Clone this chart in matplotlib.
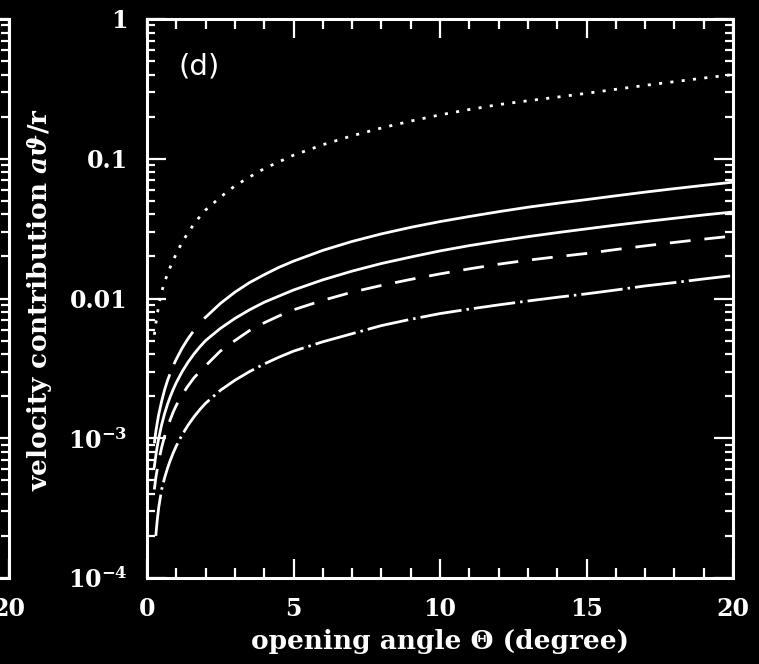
import numpy as np
import matplotlib
matplotlib.use("Agg")
import matplotlib.pyplot as plt
from matplotlib.font_manager import FontProperties
from matplotlib.ticker import (FixedLocator, FixedFormatter, MultipleLocator,
                               LogLocator, NullFormatter)

plt.rcParams['mathtext.fontset'] = 'custom'
plt.rcParams['mathtext.rm'] = 'DejaVu Serif:bold'
plt.rcParams['mathtext.bf'] = 'DejaVu Serif:bold'
plt.rcParams['mathtext.it'] = 'DejaVu Serif:italic:bold'
plt.rcParams['mathtext.default'] = 'rm'

# opening angle grid (degree)
theta = [0.25, 0.3, 0.35, 0.4, 0.5, 0.6, 0.7, 0.8, 0.9, 1.0, 1.2, 1.4, 1.6, 1.8,
         2.0, 2.5, 3, 3.5, 4, 4.5, 5, 6, 7, 8, 9, 10, 11, 12, 13, 14, 15, 16,
         17, 18, 19, 20]

# upper curve: own grid, with breaks of its long dashes at small angles
theta_a = [0.25, 0.3, 0.35, 0.4, 0.5, 0.6, 0.7, 0.78, 0.92, 1.0, 1.2, 1.4, 1.57,
           1.95, 2.5, 3, 3.5, 4, 4.5, 5, 6, 7, 8, 9, 10, 11, 12, 13, 14, 15, 16,
           17, 18, 19, 20]
vel_a = [0.00092, 0.00111, 0.00129, 0.00148, 0.00184, 0.00222, 0.00259, 0.00287,
         0.00339, 0.00368, 0.00442, 0.00516, 0.00578, 0.00718, 0.0092, 0.0111,
         0.0130, 0.0148, 0.0167, 0.0185, 0.0221, 0.0256, 0.0290, 0.0323, 0.0355,
         0.0386, 0.0418, 0.0450, 0.0480, 0.0510, 0.0543, 0.0577, 0.0611, 0.0645,
         0.0680]
a_pieces = [(0.25, 0.78), (0.92, 1.57), (1.95, 20)]

vel_b = [0.000625, 0.00075, 0.000875, 0.001, 0.00125, 0.0015, 0.00175, 0.002,
         0.00225, 0.0025, 0.003, 0.0035, 0.004, 0.0045, 0.005, 0.0061, 0.0072,
         0.0083, 0.0094, 0.0104, 0.0115, 0.0136, 0.0157, 0.0178, 0.0198, 0.0219,
         0.0239, 0.0258, 0.0277, 0.0296, 0.0315, 0.0335, 0.0355, 0.0375, 0.0396,
         0.0416]

vel_c = [0.00043, 0.00052, 0.0006, 0.00069, 0.00086, 0.00103, 0.0012, 0.00137,
         0.00155, 0.00172, 0.00205, 0.00237, 0.0027, 0.003, 0.0033, 0.0042,
         0.0050, 0.0059, 0.0067, 0.0075, 0.0083, 0.0097, 0.0111, 0.0124, 0.0137,
         0.0150, 0.0163, 0.0176, 0.0188, 0.0199, 0.0210, 0.0224, 0.0238, 0.0252,
         0.0266, 0.0280]

# dash-dot curve starts slightly later
theta_d = theta[1:]
vel_d = [0.0002, 0.00026, 0.00032, 0.00043, 0.00052, 0.00061, 0.0007, 0.00079,
         0.00088, 0.00106, 0.00124, 0.00142, 0.0016, 0.00178, 0.0022, 0.0026,
         0.0030, 0.0034, 0.0038, 0.0042, 0.0049, 0.0056, 0.0064, 0.0071, 0.0078,
         0.0084, 0.0090, 0.0096, 0.0102, 0.0108, 0.0115, 0.0123, 0.0130, 0.0138,
         0.0146]

vel_e = [0.0055, 0.0066, 0.0077, 0.0089, 0.0112, 0.0131, 0.0150, 0.0169, 0.0189,
         0.0209, 0.0253, 0.0296, 0.0340, 0.0385, 0.043, 0.053, 0.064, 0.074,
         0.085, 0.095, 0.106, 0.126, 0.146, 0.166, 0.186, 0.206, 0.225, 0.244,
         0.260, 0.276, 0.294, 0.314, 0.335, 0.356, 0.378, 0.400]

y_ticks = [1e-4, 1e-3, 0.01, 0.1, 1]
y_labels = ['$10^{-4}$', '$10^{-3}$', '0.01', '0.1', '1']
x_ticks = [0, 5, 10, 15, 20]
x_labels = ['0', '5', '10', '15', '20']

W, H = 759, 664
fig = plt.figure(figsize=(W / 100, H / 100), dpi=100, facecolor='black')

x0, x1, y0, y1 = 147, 733, 19, 578
rect = [x0 / W, 1 - y1 / H, (x1 - x0) / W, (y1 - y0) / H]

tick_fp = FontProperties(family='DejaVu Serif', weight='bold', size=17)
lw = 2.0


def style_axes(a):
    a.set_facecolor('black')
    a.set_yscale('log')
    a.set_xlim(0, 20)
    a.set_ylim(1e-4, 1)
    for s in a.spines.values():
        s.set_color('white')
        s.set_linewidth(2.2)
    a.xaxis.set_major_locator(FixedLocator(x_ticks))
    a.xaxis.set_minor_locator(MultipleLocator(1))
    a.yaxis.set_major_locator(FixedLocator(y_ticks))
    a.yaxis.set_minor_locator(LogLocator(base=10, subs=np.arange(2, 10)))
    a.yaxis.set_minor_formatter(NullFormatter())
    a.tick_params(which='both', direction='in', top=True, right=True,
                  colors='white', width=1.6)
    a.tick_params(which='major', length=14, pad=14)
    a.tick_params(axis='x', which='minor', length=7)
    a.tick_params(axis='y', which='minor', length=6)


# neighbouring panel on the left: only its right edge is in view
pw = (x1 - x0) / W
ax0 = fig.add_axes([9 / W - pw, rect[1], pw, rect[3]])
style_axes(ax0)
ax0.xaxis.set_major_locator(FixedLocator([20]))
ax0.xaxis.set_major_formatter(FixedFormatter(['20']))
ax0.yaxis.set_major_formatter(NullFormatter())
for t in ax0.get_xticklabels():
    t.set_fontproperties(tick_fp)
    t.set_color('white')

ax = fig.add_axes(rect)
style_axes(ax)
ax.xaxis.set_major_formatter(FixedFormatter(x_labels))
ax.yaxis.set_major_formatter(FixedFormatter(y_labels))
for t in ax.get_xticklabels() + ax.get_yticklabels():
    t.set_fontproperties(tick_fp)
    t.set_color('white')

# upper curve: long dashes near the origin, continuous afterwards
ta = np.array(theta_a)
va = np.array(vel_a)
for lo, hi in a_pieces:
    m = (ta >= lo) & (ta <= hi)
    ax.plot(ta[m], va[m], color='white', lw=lw, solid_capstyle='butt')

ax.plot(theta, vel_b, color='white', lw=lw)
ax.plot(theta, vel_c, color='white', lw=lw, dashes=(7.5, 5), dash_capstyle='butt')
ax.plot(theta_d, vel_d, color='white', lw=lw, dashes=(15, 1.8, 0.9, 1.8),
        dash_capstyle='butt')
ax.plot(theta, vel_e, color='white', lw=lw, dashes=(1.1, 3.0), dash_capstyle='butt')

fig.text(199 / W, 1 - 67 / H, '(d)', color='white', fontsize=21,
         family='DejaVu Sans', ha='center', va='center')

fig.text(440 / W, 1 - 642 / H, 'opening angle \u0398 (degree)', color='white',
         family='DejaVu Serif', weight='bold', fontsize=19, ha='center', va='center')
fig.text(40 / W, 1 - 300 / H, r'velocity contribution $\mathit{a\vartheta}$/r',
         color='white', family='DejaVu Serif', weight='bold', fontsize=19,
         ha='center', va='center', rotation=90)

fig.savefig('out.png', dpi=100, facecolor='black')
